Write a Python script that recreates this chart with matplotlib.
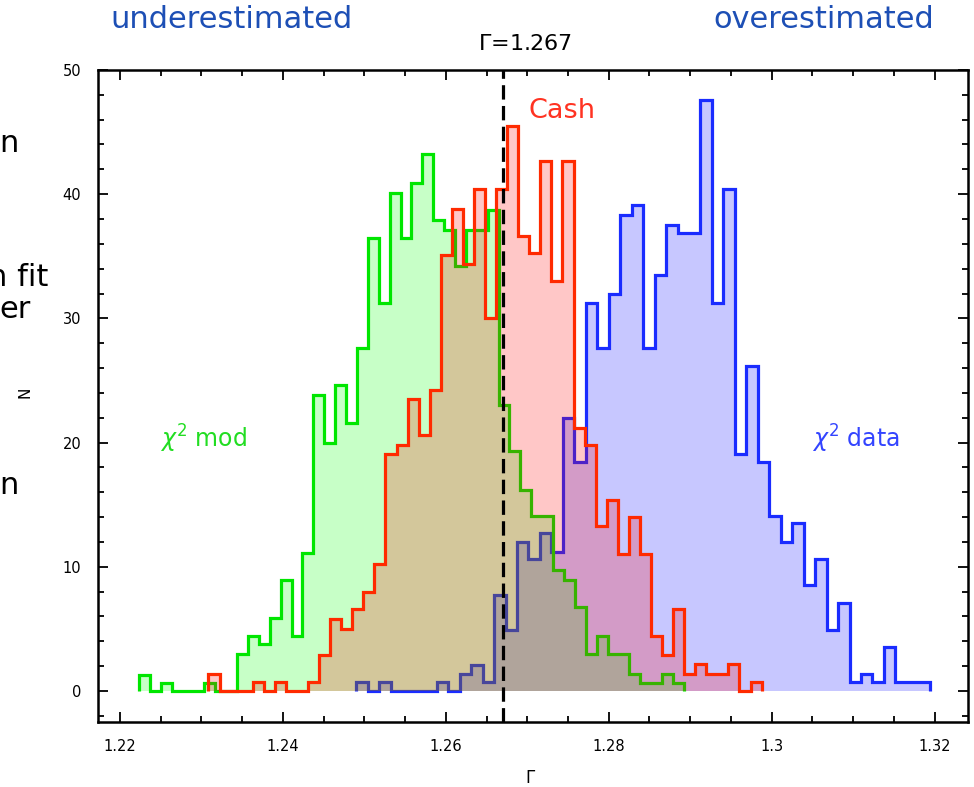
import numpy as np
import matplotlib.pyplot as plt

# 50-bin histograms, each spanning its own min..max range of Gamma
mod_range = (1.22234, 1.28922)
mod_counts = [1.3, 0, 0.6, 0, 0, 0, 0.6, 0, 0, 3.0,
              4.4, 3.75, 5.9, 8.9, 4.4, 11.1, 23.8, 20.0, 24.6, 21.6,
              27.6, 36.5, 31.2, 40.1, 36.5, 40.9, 43.2, 37.9, 37.1, 34.2,
              37.1, 37.1, 38.7, 23.0, 19.3, 16.2, 14.1, 14.1, 9.7, 8.9,
              6.75, 2.95, 4.4, 3.0, 3.0, 1.4, 0.67, 0.67, 1.4, 0.67]

cash_range = (1.23086, 1.29877)
cash_counts = [1.4, 0, 0, 0, 0.7, 0, 0.7, 0, 0, 0.7,
               2.9, 5.8, 5.0, 6.6, 8.0, 10.2, 19.1, 19.8, 23.5, 20.6,
               24.2, 35.1, 38.8, 34.4, 40.4, 30.0, 40.4, 45.5, 36.6, 35.3,
               42.7, 33.0, 42.7, 21.2, 19.8, 13.3, 15.4, 11.0, 14.0, 11.0,
               4.4, 2.9, 6.6, 1.4, 2.2, 1.4, 1.4, 2.2, 0, 0.7]

data_range = (1.24903, 1.31942)
data_counts = [0.7, 0, 0.7, 0, 0, 0, 0, 0.7, 0, 1.4,
               2.1, 0.7, 7.7, 4.9, 12.0, 10.6, 12.7, 11.2, 22.0, 18.4,
               31.2, 27.6, 32.0, 38.3, 39.1, 27.6, 33.5, 37.5, 36.9, 36.9,
               47.6, 31.2, 40.4, 19.1, 26.2, 18.4, 14.1, 12.0, 13.5, 8.5,
               10.6, 4.9, 7.1, 0.7, 1.4, 0.7, 3.5, 0.7, 0.7, 0.7]

gamma_true = 1.267

fig = plt.figure(figsize=(9.74, 7.87), dpi=100)
ax = fig.add_axes([0.1006, 0.0826, 0.8932, 0.8285])

series = [
    (data_counts, data_range, '#0000ff', '#1a2cff'),
    (mod_counts, mod_range, '#00ff00', '#00e600'),
    (cash_counts, cash_range, '#ff0000', '#ff2a00'),
]
for counts, rng, fill_col, line_col in series:
    edges = np.linspace(rng[0], rng[1], len(counts) + 1)
    ax.stairs(counts, edges, fill=True, color=fill_col, alpha=0.22, lw=0)
    ax.stairs(counts, edges, baseline=0, color=line_col, lw=2.3)

ax.axvline(gamma_true, color='black', lw=2.3, linestyle=(0, (4.5, 2)))

ax.set_xlim(1.2173, 1.3241)
ax.set_ylim(-2.5, 50)
ax.set_xticks([1.22, 1.24, 1.26, 1.28, 1.3, 1.32])
ax.set_xticklabels(['1.22', '1.24', '1.26', '1.28', '1.3', '1.32'])
ax.set_xticks(np.arange(1.22, 1.3241, 0.005), minor=True)
ax.set_yticks([0, 10, 20, 30, 40, 50])
ax.set_yticks(np.arange(-2, 50.1, 2), minor=True)
ax.tick_params(which='both', direction='in', top=True, right=True,
               labelsize=10.5, colors='black', width=1.3)
ax.tick_params(which='major', length=7, pad=12)
ax.tick_params(which='minor', length=4)
for s in ax.spines.values():
    s.set_linewidth(1.8)
ax.set_xlabel(r'$\Gamma$', fontsize=12)
ax.xaxis.set_label_coords(0.497, -0.072)
ax.set_ylabel('N', fontsize=11)
ax.yaxis.set_label_coords(-0.075, 0.505)

ax.text(1.2701, 46.7, 'Cash', color='#ff3322', fontsize=19.5, ha='left', va='center')
ax.text(1.2249, 20.3, r'$\chi^2$ mod', color='#22dd22', fontsize=17, ha='left', va='center')
ax.text(1.3049, 20.3, r'$\chi^2$ data', color='#3344ff', fontsize=17, ha='left', va='center')

fig.text(478 / 974, 1 - 44 / 787, r'$\Gamma$=1.267', fontsize=16, ha='left', va='center')
fig.text(0.113, 0.975, 'underestimated', color='#1d4fb5', fontsize=22, ha='left', va='center')
fig.text(0.959, 0.975, 'overestimated', color='#1d4fb5', fontsize=22, ha='right', va='center')

# fragments of slide text cut off at the left edge
for label, y, right in [('n', 143, 19), ('n fit', 278, 48), ('er', 310, 31), ('n', 486, 19)]:
    fig.text(right / 974, 1 - y / 787, label, fontsize=22, ha='right', va='center')

fig.savefig('out.png', dpi=100)
